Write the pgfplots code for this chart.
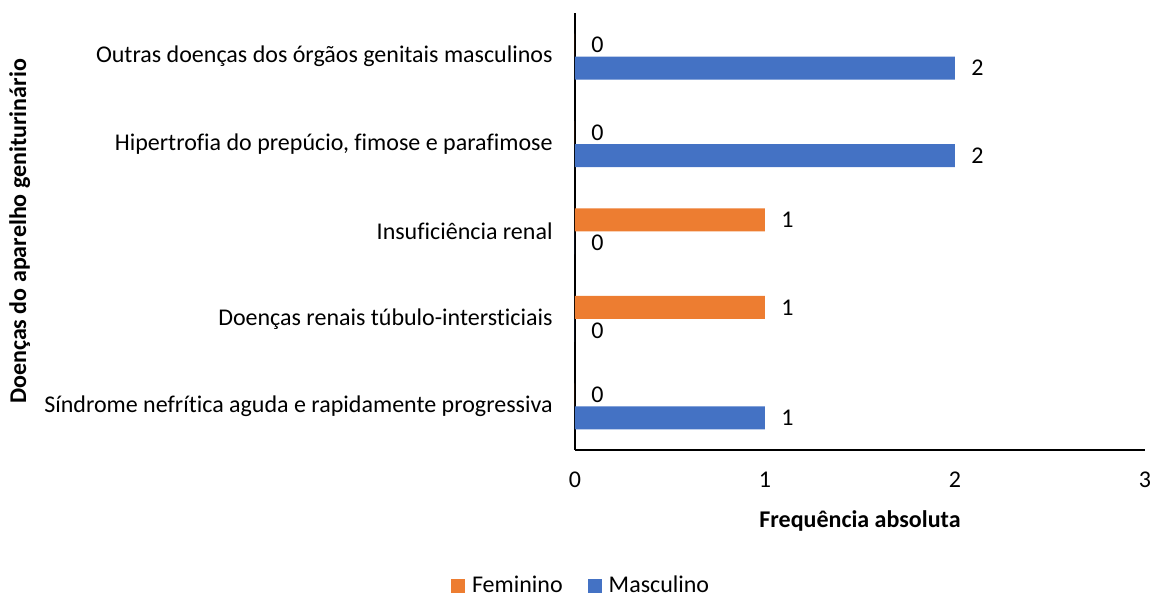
\documentclass[border=0pt]{standalone}
\usepackage{pgfplots}
\pgfplotsset{compat=1.18}
\usepackage{fontspec}
\setmainfont{Carlito}[Ligatures={NoCommon}]
\definecolor{fem}{HTML}{ED7D31}
\definecolor{mas}{HTML}{4472C4}
\begin{document}
\fontsize{12pt}{14pt}\selectfont
\begin{tikzpicture}
\useasboundingbox (-287.5pt,-73.5pt) rectangle (288.5pt,225pt);
\begin{axis}[
  at={(0,0)}, anchor=south west,
  scale only axis,
  width=285pt, height=218.5pt,
  xbar, bar width=11.5pt,
  xmin=0, xmax=3, ymin=-0.5, ymax=4.5,
  axis x line=bottom, axis y line=left,
  axis line style={-, black, line width=0.6pt},
  major tick length=0pt,
  xtick={0,1,2,3},
  ytick={0,1,2,3,4},
  yticklabels={Síndrome nefrítica aguda e rapidamente progressiva,
    Doenças renais túbulo-intersticiais,
    Insuficiência renal,
    {Hipertrofia do prepúcio, fimose e parafimose},
    Outras doenças dos órgãos genitais masculinos},
  /pgf/number format/assume math mode=true,
  tick label style={font=\fontsize{12pt}{14pt}\selectfont},
  x tick label style={anchor=north, inner sep=0pt, yshift=-11pt},
  y tick label style={anchor=east, inner sep=0pt, xshift=-11pt},
  xlabel={\textbf{Frequência absoluta}},
  xlabel style={at={(axis description cs:0.5,-0.1625)}, anchor=center, font=\fontsize{12pt}{14pt}\selectfont},
  ylabel={\textbf{Doenças do aparelho geniturinário}},
  ylabel style={at={(axis description cs:-0.974,0.5)}, anchor=center, rotate=0, font=\fontsize{12pt}{14pt}\selectfont},
  nodes near coords,
  nodes near coords style={anchor=west, inner sep=0pt, xshift=8pt, font=\fontsize{12pt}{14pt}\selectfont},
  every node near coord/.append style={/pgf/number format/assume math mode=true},
  clip=false,
  legend columns=2,
  legend style={at={(axis description cs:0.009,-0.312)}, anchor=center, draw=none, fill=none,
    font=\fontsize{12pt}{14pt}\selectfont, inner sep=0pt,
    nodes={inner sep=0pt, anchor=west},
    /tikz/every odd column/.append style={column sep=3.5pt},
    /tikz/every even column/.append style={column sep=12.5pt}},
  legend image code/.code={\fill[#1] (0pt,-3.5pt) rectangle (7pt,3.5pt);},
]
\addplot[fill=fem, draw=none, bar shift=5.75pt] coordinates {(0,0) (1,1) (1,2) (0,3) (0,4)};
\addplot[fill=mas, draw=none, bar shift=-5.75pt] coordinates {(1,0) (0,1) (0,2) (2,3) (2,4)};
\legend{Feminino, Masculino}
\end{axis}
\end{tikzpicture}
\end{document}
